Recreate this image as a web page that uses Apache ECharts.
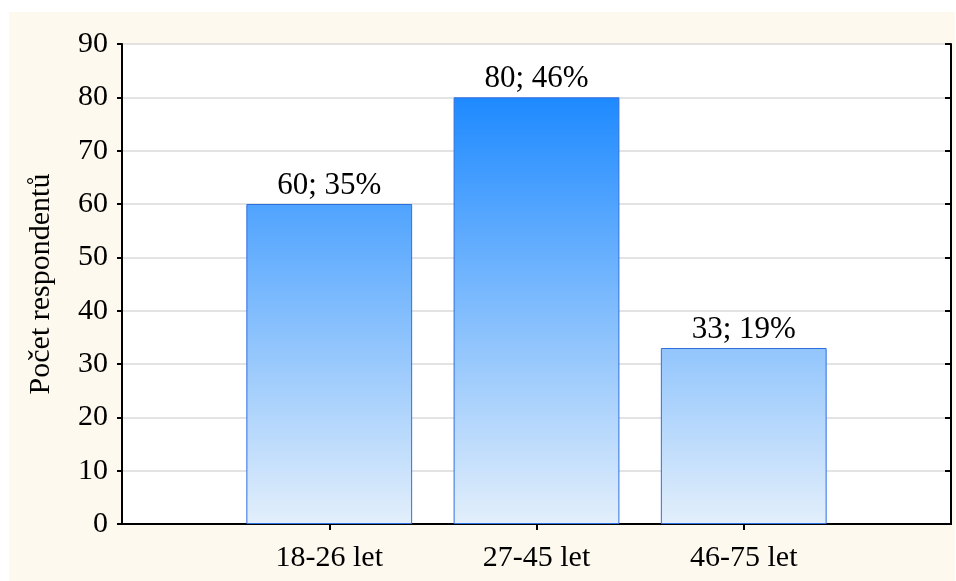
<!DOCTYPE html>
<html>
<head>
<meta charset="utf-8">
<script src="https://cdn.jsdelivr.net/npm/echarts@6/dist/echarts.min.js"></script>
<style>
  html, body { margin: 0; padding: 0; background: #ffffff; }
  #panel { position: absolute; left: 9px; top: 12px; width: 946px; height: 569px; background: #FDF9EE; }
  #chart { position: absolute; left: 0; top: 0; width: 956px; height: 581px; }
</style>
</head>
<body>
<div id="panel"></div>
<div id="chart"></div>
<script>
// Data
const categories = ['18-26 let', '27-45 let', '46-75 let'];
const counts = [60, 80, 33];
const percents = [35, 46, 19];
const yTicks = { min: 0, max: 90, interval: 10 };
const yTitle = 'Počet respondentů';

// padded category slots so the bars sit at positions 1..3 of 0..4
const axisCats = [''].concat(categories, ['']);
const barData = [null].concat(counts, [null]);

const font = 'Liberation Serif';
const fs = 30;
const fsLabel = 31;
const tickOnBars = (i) => i >= 1 && i <= categories.length;

const chart = echarts.init(document.getElementById('chart'), null, { renderer: 'canvas' });

const option = {
  backgroundColor: 'transparent',
  animation: false,
  grid: { left: 122, right: 5, top: 44, bottom: 57, show: true, backgroundColor: '#ffffff', borderWidth: 0 },
  xAxis: [
    {
      type: 'category', data: axisCats, boundaryGap: false, position: 'bottom',
      axisLine: { show: true, lineStyle: { color: '#000', width: 2 } },
      axisTick: { show: true, inside: true, length: 6, interval: tickOnBars, lineStyle: { color: '#000', width: 2 } },
      axisLabel: { interval: 0, margin: 19, color: '#000', fontFamily: font, fontSize: fs },
      splitLine: { show: false }
    },
    {
      type: 'category', data: axisCats, boundaryGap: false, position: 'top',
      axisLine: { show: true, lineStyle: { color: '#000', width: 2 } },
      axisTick: { show: true, inside: true, length: 6, interval: tickOnBars, lineStyle: { color: '#000', width: 2 } },
      axisLabel: { show: false },
      splitLine: { show: false }
    }
  ],
  yAxis: [
    {
      type: 'value', min: yTicks.min, max: yTicks.max, interval: yTicks.interval, position: 'left',
      name: yTitle, nameLocation: 'middle', nameGap: 66, nameRotate: 90,
      nameTextStyle: { color: '#000', fontFamily: font, fontSize: fs },
      axisLine: { show: true, lineStyle: { color: '#000', width: 2 } },
      axisTick: { show: true, inside: false, length: 5, lineStyle: { color: '#000', width: 2 } },
      axisLabel: { margin: 14, color: '#000', fontFamily: font, fontSize: fs },
      splitLine: { show: true, lineStyle: { color: '#DADADA', width: 1.5 } }
    },
    {
      type: 'value', min: yTicks.min, max: yTicks.max, interval: yTicks.interval, position: 'right',
      axisLine: { show: true, lineStyle: { color: '#000', width: 2 } },
      axisTick: { show: true, inside: true, length: 6, lineStyle: { color: '#000', width: 2 } },
      axisLabel: { show: false },
      splitLine: { show: false }
    }
  ],
  series: [
    {
      type: 'bar', xAxisIndex: 0, yAxisIndex: 0,
      data: barData,
      barWidth: '80%',
      itemStyle: { color: '#4EA5FF', borderColor: '#2E6FE0', borderWidth: 1 },
      label: {
        show: true, position: 'top', distance: 3,
        color: '#000', fontFamily: font, fontSize: fsLabel,
        formatter: (p) => {
          const i = p.dataIndex - 1;
          return counts[i] + '; ' + percents[i] + '%';
        }
      }
    }
  ]
};

chart.setOption(option);

// gradient anchored to the value scale (shared by all bars)
const yTop = chart.convertToPixel({ yAxisIndex: 0 }, 80);
const yBottom = chart.convertToPixel({ yAxisIndex: 0 }, 0);
chart.setOption({
  series: [{
    itemStyle: {
      color: new echarts.graphic.LinearGradient(0, yTop, 0, yBottom, [
        { offset: 0, color: '#1E8AFF' },
        { offset: 1, color: '#E3EFFB' }
      ], true)
    }
  }]
});
</script>
</body>
</html>
